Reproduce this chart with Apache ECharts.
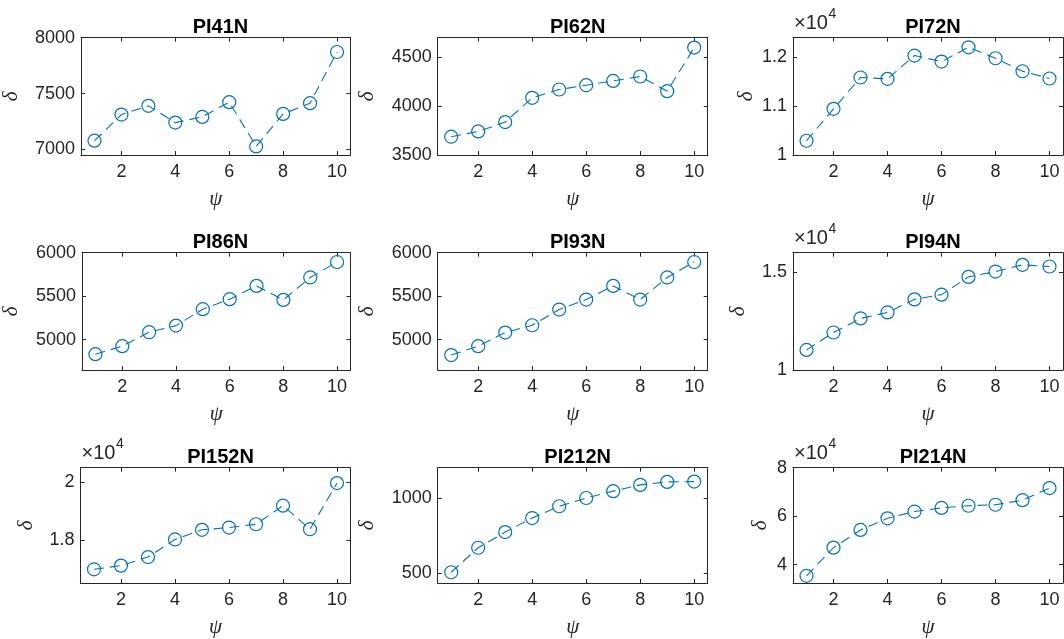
<!DOCTYPE html>
<html>
<head>
<meta charset="utf-8">
<title>PI panels</title>
<script src="https://cdn.jsdelivr.net/npm/echarts@6/dist/echarts.min.js"></script>
<style>
  html, body { margin: 0; padding: 0; background: #fff; }
  #chart { width: 1064px; height: 639px; }
</style>
</head>
<body>
<div id="chart"></div>
<script>
// x values (psi) shared by all panels
const psi = [1, 2, 3, 4, 5, 6, 7, 8, 9, 10];
const xTicks = [2, 4, 6, 8, 10];

// delta values
const pi41n = [7078, 7312, 7390, 7240, 7291, 7423, 7027, 7318, 7414, 7872];
const pi62n = [3687, 3741, 3837, 4085, 4170, 4214, 4258, 4303, 4153, 4599];
const pi72n = [10292, 10945, 11586, 11559, 12035, 11912, 12204, 11980, 11714, 11565];
const pi86n = [4832, 4924, 5085, 5161, 5350, 5465, 5618, 5457, 5715, 5893];
const pi93n = [4822, 4924, 5081, 5165, 5346, 5461, 5618, 5461, 5715, 5893];
const pi94n = [11028, 11917, 12637, 12945, 13613, 13854, 14763, 15036, 15380, 15293];
const pi152n = [16976, 17103, 17400, 18010, 18345, 18424, 18538, 19183, 18366, 19966];
const pi212n = [505, 669, 774, 868, 947, 1002, 1048, 1090, 1110, 1112];
const pi214n = [35380, 47000, 54300, 59100, 61900, 63400, 64300, 64700, 66600, 71600];

// panel titles, y limits and y tick values
const titles = ["PI41N", "PI62N", "PI72N", "PI86N", "PI93N", "PI94N", "PI152N", "PI212N", "PI214N"];
const seriesData = [pi41n, pi62n, pi72n, pi86n, pi93n, pi94n, pi152n, pi212n, pi214n];
const yMins = [6950, 3500, 10000, 4650, 4650, 10000, 16500, 433, 32400];
const yMaxs = [8000, 4700, 12400, 6000, 6000, 16000, 20500, 1205, 80000];
const yTicks = [
  [7000, 7500, 8000],
  [3500, 4000, 4500],
  [10000, 11000, 12000],
  [5000, 5500, 6000],
  [5000, 5500, 6000],
  [10000, 15000],
  [18000, 20000],
  [500, 1000],
  [40000, 60000, 80000],
];
// panels drawn with a x10^4 exponent label
const scaled = [false, false, true, false, false, true, true, false, true];

// layout
const gridLefts = [80.5, 437.7, 793];
const gridTops = [37.7, 252.7, 467.7];
const gridW = 270;
const gridH = 117.3;
const nameGaps = [59, 60, 36, 60, 60, 44, 44, 60, 22];

const blue = "#0072BD";
const axisGray = "#262626";
const sansFont = "'Liberation Sans', Arial, Helvetica, sans-serif";
const serifFont = "'Liberation Serif', 'DejaVu Serif', serif";

const grids = [];
const xAxes = [];
const yAxes = [];
const series = [];
const titleList = [];
const graphics = [];

titles.forEach((name, k) => {
  const row = Math.floor(k / 3);
  const col = k % 3;
  const left = gridLefts[col];
  const top = gridTops[row];

  grids.push({ left: left, top: top, width: gridW, height: gridH, show: false });

  const baseLine = { show: true, onZero: false, lineStyle: { color: axisGray, width: 1 } };
  const tick = (vals) => ({
    show: true,
    inside: true,
    length: 4,
    customValues: vals,
    lineStyle: { color: axisGray, width: 1 },
  });

  // bottom + top x axes
  xAxes.push({
    type: "value",
    gridIndex: k,
    position: "bottom",
    min: 0.5,
    max: 10.5,
    name: "ψ",
    nameLocation: "middle",
    nameGap: 34,
    nameTextStyle: { fontFamily: serifFont, fontStyle: "italic", fontSize: 21, color: axisGray },
    axisLine: baseLine,
    axisTick: tick(xTicks),
    axisLabel: {
      customValues: xTicks,
      margin: 8,
      fontSize: 18,
      fontFamily: sansFont,
      color: axisGray,
    },
    splitLine: { show: false },
  });
  xAxes.push({
    type: "value",
    gridIndex: k,
    position: "top",
    min: 0.5,
    max: 10.5,
    axisLine: baseLine,
    axisTick: tick(xTicks),
    axisLabel: { show: false },
    splitLine: { show: false },
  });

  // left + right y axes
  yAxes.push({
    type: "value",
    gridIndex: k,
    position: "left",
    min: yMins[k],
    max: yMaxs[k],
    name: "δ",
    nameLocation: "middle",
    nameRotate: 90,
    nameGap: nameGaps[k],
    nameTextStyle: { fontFamily: serifFont, fontStyle: "italic", fontSize: 21, color: axisGray },
    axisLine: baseLine,
    axisTick: tick(yTicks[k]),
    axisLabel: {
      customValues: yTicks[k],
      margin: 6,
      fontSize: 18,
      fontFamily: sansFont,
      color: axisGray,
      formatter: (v) => (scaled[k] ? String(+(v / 1e4).toFixed(2)) : String(v)),
    },
    splitLine: { show: false },
  });
  yAxes.push({
    type: "value",
    gridIndex: k,
    position: "right",
    min: yMins[k],
    max: yMaxs[k],
    axisLine: baseLine,
    axisTick: tick(yTicks[k]),
    axisLabel: { show: false },
    splitLine: { show: false },
  });

  series.push({
    type: "line",
    xAxisIndex: 2 * k,
    yAxisIndex: 2 * k,
    data: psi.map((x, i) => [x, seriesData[k][i]]),
    symbol: "circle",
    symbolSize: 13,
    itemStyle: { color: "rgba(0,0,0,0)", borderColor: blue, borderWidth: 1.2 },
    lineStyle: { color: blue, width: 1.1, type: [10, 6] },
    emphasis: { disabled: true },
  });

  titleList.push({
    text: name,
    left: left + gridW / 2,
    top: top - 25,
    textAlign: "center",
    textStyle: { fontFamily: sansFont, fontWeight: "bold", fontSize: 20, color: "#000" },
  });

  // x10^4 exponent for scaled panels
  if (scaled[k]) {
    graphics.push({
      type: "text",
      x: left + 1,
      y: top - 4,
      style: {
        text: "×10",
        font: "20px 'Liberation Sans', Arial, sans-serif",
        fill: axisGray,
        verticalAlign: "bottom",
      },
    });
    graphics.push({
      type: "text",
      x: left + 35.5,
      y: top - 17,
      style: {
        text: "4",
        font: "14px 'Liberation Sans', Arial, sans-serif",
        fill: axisGray,
        verticalAlign: "bottom",
      },
    });
  }
});

const options = {
  animation: false,
  backgroundColor: "#fff",
  title: titleList,
  grid: grids,
  xAxis: xAxes,
  yAxis: yAxes,
  series: series,
  graphic: graphics,
};

const chart = echarts.init(document.getElementById("chart"), null, { renderer: "canvas" });
chart.setOption(options);
</script>
</body>
</html>
